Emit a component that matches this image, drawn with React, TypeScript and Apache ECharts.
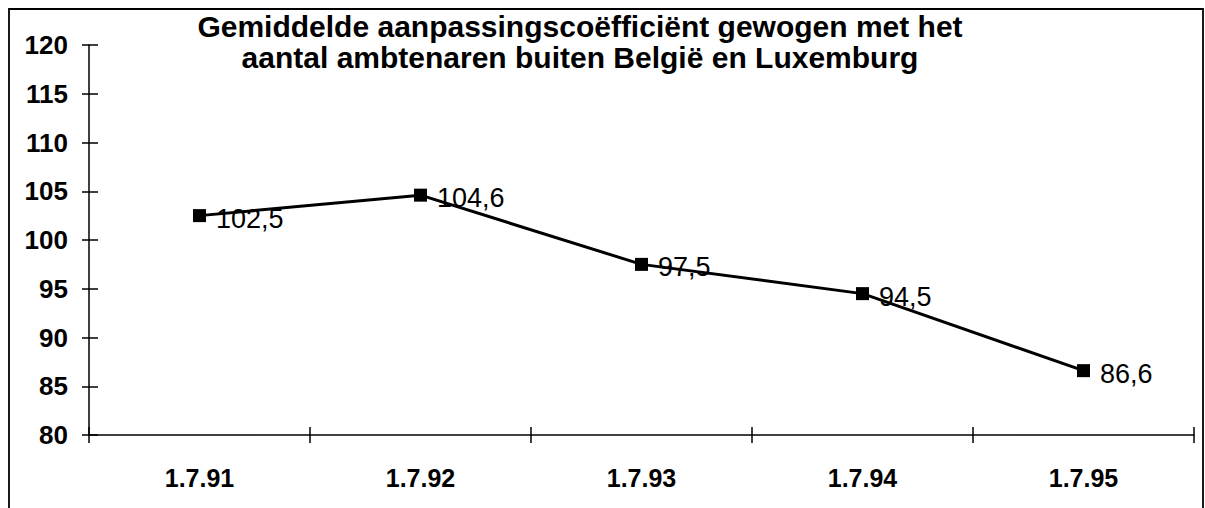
import React, { useEffect, useRef } from "react";
import * as echarts from "echarts";

const categories = ["1.7.91", "1.7.92", "1.7.93", "1.7.94", "1.7.95"];
const values = [102.5, 104.6, 97.5, 94.5, 86.6];
const valueLabels = ["102,5", "104,6", "97,5", "94,5", "86,6"];
const titleLines = [
  "Gemiddelde aanpassingscoëfficiënt gewogen met het",
  "aantal ambtenaren buiten België en Luxemburg",
];
const yMin = 80;
const yMax = 120;
const yStep = 5;

const FONT = "'Liberation Sans', Arial, sans-serif";

export default function App() {
  const ref = useRef<HTMLDivElement>(null);
  useEffect(() => {
    if (!ref.current) return;
    const chart = echarts.init(ref.current, undefined, { renderer: "svg" });
    const black = "#000";
    chart.setOption({
      animation: false,
      backgroundColor: "#fff",
      textStyle: { fontFamily: FONT },
      grid: { left: 89, right: 11, top: 45, bottom: 73 },
      graphic: [
        {
          type: "rect",
          shape: { x: 9, y: 9, width: 1194, height: 520 },
          style: { fill: "none", stroke: black, lineWidth: 1.8 },
          silent: true,
        },
        {
          type: "text",
          x: 580,
          y: 11,
          style: {
            text: titleLines.join("\n"),
            fontFamily: FONT,
            fontSize: 30,
            fontWeight: "bold",
            lineHeight: 31,
            fill: black,
            align: "center",
            verticalAlign: "top",
          },
        },
      ],
      xAxis: [
        {
          type: "category",
          data: categories,
          boundaryGap: true,
          axisLine: { lineStyle: { color: black, width: 1.5 } },
          axisTick: { show: true, length: 8, lineStyle: { color: black, width: 1.5 } },
          axisLabel: { margin: 30, fontSize: 25, fontWeight: "bold", color: black, fontFamily: FONT },
          splitLine: { show: false },
        },
        {
          type: "category",
          data: categories,
          position: "bottom",
          boundaryGap: true,
          axisLine: { show: false },
          axisTick: { show: true, inside: true, length: 8, lineStyle: { color: black, width: 1.5 } },
          axisLabel: { show: false },
          splitLine: { show: false },
        },
      ],
      yAxis: [
        {
          type: "value",
          min: yMin,
          max: yMax,
          interval: yStep,
          axisLine: { show: true, lineStyle: { color: black, width: 1.5 } },
          axisTick: { show: true, length: 7, lineStyle: { color: black, width: 1.5 } },
          axisLabel: { margin: 21, fontSize: 26, fontWeight: "bold", color: black, fontFamily: FONT },
          splitLine: { show: false },
        },
        {
          type: "value",
          min: yMin,
          max: yMax,
          interval: yStep,
          position: "left",
          axisLine: { show: false },
          axisTick: { show: true, inside: true, length: 9, lineStyle: { color: black, width: 1.5 } },
          axisLabel: { show: false },
          splitLine: { show: false },
        },
      ],
      series: [
        {
          type: "line",
          data: values,
          xAxisIndex: 0,
          yAxisIndex: 0,
          symbol: "rect",
          symbolSize: 13,
          itemStyle: { color: black },
          lineStyle: { color: black, width: 3 },
          label: {
            show: true,
            position: "right",
            distance: 10,
            offset: [0, 3],
            fontSize: 27,
            color: black,
            fontFamily: FONT,
            formatter: (p: any) => valueLabels[p.dataIndex],
          },
        },
      ],
    });
    return () => chart.dispose();
  }, []);
  return (
    <div
      ref={ref}
      style={{ position: "fixed", left: 0, top: 0, width: 1205, height: 508 }}
    />
  );
}
